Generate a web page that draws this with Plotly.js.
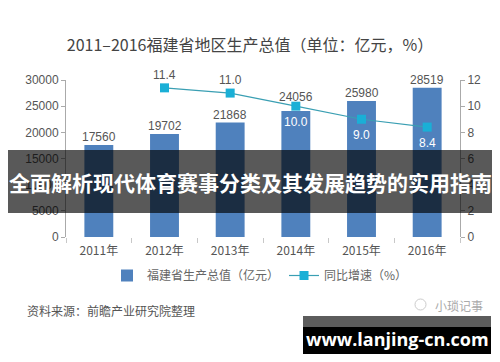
<!DOCTYPE html>
<html><head><meta charset="utf-8">
<script src="https://cdn.plot.ly/plotly-3.0.1.min.js"></script>
<style>html,body{margin:0;padding:0;background:#fff}#c{width:500px;height:362px}</style>
</head><body><div id="c"></div>
<script>
const years = ['2011年','2012年','2013年','2014年','2015年','2016年'];
const gdp = [17560, 19702, 21868, 24056, 25980, 28519];
const growth = [null, 11.4, 11.0, 10.0, 9.0, 8.4];
const growthLabelAbove = [true, true, true, false, false, false];
const titleText = '2011–2016福建省地区生产总值（单位：亿元，%）';
const barName = '福建省生产总值（亿元）';
const lineName = '同比增速（%）';
const sourceText = '资料来源：前瞻产业研究院整理';
const markText = '小琐记事';
const bannerText = '全面解析现代体育赛事分类及其发展趋势的实用指南';
const siteText = 'www.lanjing-cn.com';

const L = 66, R = 460, T = 80, B = 237;
const px = x => (x - L) / (R - L);
const py = y => (B - y) / (B - T);
const CJK = '"Noto Sans CJK SC", "Liberation Sans", sans-serif';
const NUM = '"Liberation Sans", Arial, sans-serif';

const data = [
  {type:'bar', x: years, y: gdp, name: barName, marker:{color:'#4F81BD'}, hoverinfo:'none'},
  {type:'scatter', mode:'lines+markers', x: years, y: growth, yaxis:'y2', name: lineName,
   line:{color:'#3A9FB3', width:1.2}, marker:{symbol:'square', size:9, color:'#1AAFD6'}, cliponaxis:false}
];

const annotations = [];
gdp.forEach((v, i) => {
  annotations.push({text:String(v), x: years[i], y: v, xref:'x', yref:'y', showarrow:false,
    yanchor:'middle', yshift: (i === 3 ? 14 : 8), font:{family:NUM, size:12, color:'#555'}});
});
growth.forEach((v, i) => {
  if (v === null) return;
  const above = growthLabelAbove[i];
  annotations.push({text:v.toFixed(1), x: years[i], y: v, xref:'x', yref:'y2', showarrow:false,
    yanchor:'middle', yshift: above ? 13 : -16, font:{family:NUM, size:12, color: above ? '#555' : '#fff'}});
});
annotations.push(
  {text:sourceText, xref:'paper', yref:'paper', x:px(25), y:py(310), xanchor:'left', yanchor:'middle',
   showarrow:false, font:{family:CJK, size:12, color:'#555'}},
  {text:markText, xref:'paper', yref:'paper', x:px(485), y:py(305), xanchor:'right', yanchor:'middle',
   showarrow:false, font:{family:CJK, size:12, color:'#aaa'}},
  {text:'<b>'+bannerText+'</b>', xref:'paper', yref:'paper', x:px(250), y:py(182), xanchor:'center', yanchor:'middle',
   showarrow:false, font:{family:CJK, size:21, color:'#fff'}},
  {text:'<b>'+siteText+'</b>', xref:'paper', yref:'paper', x:px(397), y:py(339), xanchor:'center', yanchor:'middle',
   showarrow:false, font:{family:'"Open Sans", "DejaVu Sans", sans-serif', size:18, color:'#fff'}}
);

const layout = {
  width:500, height:362, margin:{l:L, r:500-R, t:T, b:362-B},
  paper_bgcolor:'#fff', plot_bgcolor:'#fff', bargap:0.56, showlegend:true,
  font:{family:CJK, color:'#555', size:12},
  title:{text:titleText, x:0.5, xanchor:'center', y:1-45/362, yanchor:'middle',
         font:{family:CJK, size:16, color:'#444'}},
  xaxis:{range:[-0.5,5.5], showline:false, showgrid:false, zeroline:false, ticks:'outside',
         tickson:'boundaries', ticklen:5, tickcolor:'#c8c8c8', ticklabelstandoff:5,
         tickfont:{family:CJK, size:12, color:'#555'}},
  yaxis:{range:[0,30000], dtick:5000, tickformat:'d', showgrid:false, zeroline:false, showline:true, linecolor:'#aaa',
         ticks:'outside', ticklen:4, tickcolor:'#aaa', tickfont:{family:NUM, size:12, color:'#555'}},
  yaxis2:{range:[0,12], dtick:2, overlaying:'y', side:'right', showgrid:false, zeroline:false, showline:true,
          linecolor:'#aaa', ticks:'outside', ticklen:4, tickcolor:'#aaa',
          tickfont:{family:NUM, size:12, color:'#555'}},
  legend:{orientation:'h', x:0.52, xanchor:'center', xref:'container', yref:'container', y:1-261/362, yanchor:'top',
          font:{family:CJK, size:12, color:'#666'}, bgcolor:'rgba(0,0,0,0)', itemwidth:30},
  shapes:[
    {type:'circle', xref:'paper', yref:'paper', x0:px(415), x1:px(426), y0:py(299), y1:py(310),
     fillcolor:'rgba(0,0,0,0)', line:{width:1, color:'#ccc'}},
    {type:'rect', xref:'paper', yref:'paper', x0:px(8), x1:px(492), y0:py(150), y1:py(213),
     fillcolor:'rgba(0,0,0,0.65)', line:{width:0}, layer:'above'},
    {type:'rect', xref:'paper', yref:'paper', x0:px(303), x1:px(491), y0:py(316), y1:py(327),
     fillcolor:'#5c5c5c', line:{width:0}, layer:'above'},
    {type:'rect', xref:'paper', yref:'paper', x0:px(303), x1:px(491), y0:py(327), y1:py(354),
     fillcolor:'#000', line:{width:0}, layer:'above'}
  ],
  annotations: annotations
};
Plotly.newPlot('c', data, layout, {displayModeBar:false, staticPlot:true});
</script></body></html>
